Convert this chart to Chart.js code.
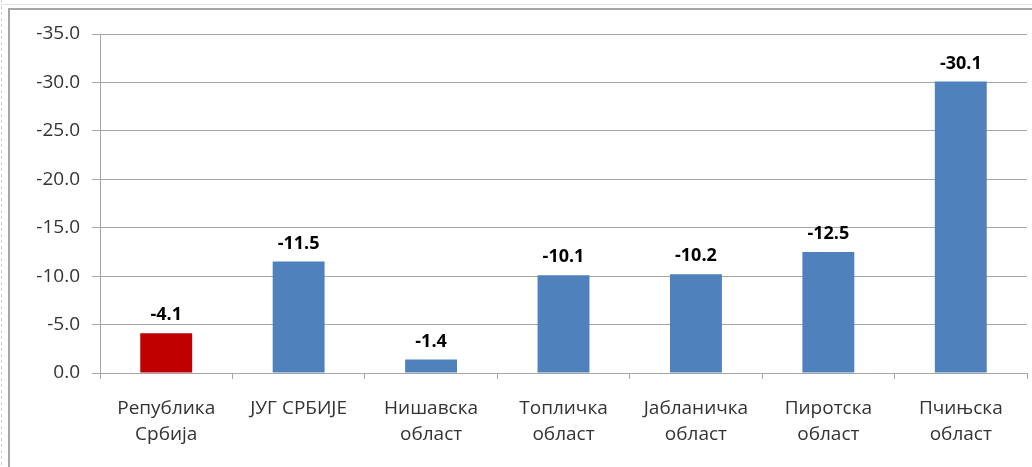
<!DOCTYPE html>
<html>
<head>
<meta charset="utf-8">
<script src="https://cdn.jsdelivr.net/npm/chart.js@4"></script>
<style>
  body { margin: 0; background: #fff; }
  #wrap { width: 1032px; height: 467px; position: relative; }
</style>
</head>
<body>
<div id="wrap"><canvas id="grafica" width="1032" height="467"></canvas></div>
<script>
const oblasti = [
    ['Република', 'Србија'],
    'ЈУГ СРБИЈЕ',
    ['Нишавска', 'област'],
    ['Топличка', 'област'],
    ['Јабланичка', 'област'],
    ['Пиротска', 'област'],
    ['Пчињска', 'област']
];
const promene = [-4.1, -11.5, -1.4, -10.1, -10.2, -12.5, -30.1];
const boje = ['#c00000', '#4f81bd', '#4f81bd', '#4f81bd', '#4f81bd', '#4f81bd', '#4f81bd'];

const fontFamily = "'Open Sans', 'Noto Sans', sans-serif";

// okvir oko grafikona
const okvir = {
    id: 'okvir',
    beforeDraw(chart) {
        const ctx = chart.ctx;
        ctx.save();
        ctx.strokeStyle = '#e4e4e4';
        ctx.lineWidth = 1;
        ctx.beginPath();
        ctx.moveTo(0, 4.5);
        ctx.lineTo(1032, 4.5);
        ctx.stroke();
        ctx.strokeStyle = '#a6a6a6';
        ctx.lineWidth = 2;
        ctx.strokeRect(9, 9, 1040, 470);
        // tackasta ivica levo
        ctx.strokeStyle = '#cfcfcf';
        ctx.lineWidth = 1;
        ctx.setLineDash([3, 3]);
        ctx.beginPath();
        ctx.moveTo(1.5, 0);
        ctx.lineTo(1.5, 467);
        ctx.stroke();
        ctx.restore();
    }
};

// vrednosti iznad stubova
const vrednosti = {
    id: 'vrednosti',
    afterDatasetsDraw(chart) {
        const ctx = chart.ctx;
        const meta = chart.getDatasetMeta(0);
        ctx.save();
        ctx.font = 'bold 18px ' + fontFamily;
        ctx.fillStyle = '#000';
        ctx.textAlign = 'center';
        ctx.textBaseline = 'bottom';
        meta.data.forEach((bar, i) => {
            ctx.fillText(promene[i].toFixed(1), bar.x, bar.y - 9);
        });
        ctx.restore();
    }
};

const instancia = document.getElementById('grafica').getContext('2d');
const myChart = new Chart(instancia, {
    type: 'bar',
    data: {
        labels: oblasti,
        datasets: [{
            data: promene,
            backgroundColor: boje,
            borderWidth: 0,
            barPercentage: 0.8,
            categoryPercentage: 0.49
        }]
    },
    options: {
        responsive: false,
        animation: false,
        layout: { padding: { top: 34, right: 5, left: 0, bottom: 0 } },
        plugins: {
            legend: { display: false },
            tooltip: { enabled: false }
        },
        scales: {
            x: {
                grid: {
                    display: true,
                    drawOnChartArea: false,
                    drawTicks: true,
                    tickLength: 6,
                    offset: true,
                    color: '#a6a6a6'
                },
                border: { color: '#a6a6a6', width: 1 },
                ticks: {
                    color: '#333',
                    font: { family: fontFamily, size: 19, lineHeight: 1.4 },
                    padding: 16,
                    maxRotation: 0,
                    autoSkip: false
                },
                afterFit(scale) { scale.height = 94; }
            },
            y: {
                reverse: true,
                min: -35,
                max: 0,
                ticks: {
                    stepSize: 5,
                    color: '#333',
                    font: { family: fontFamily, size: 19 },
                    padding: 12,
                    callback: v => v.toFixed(1)
                },
                grid: {
                    color: '#a6a6a6',
                    tickLength: 8,
                    drawTicks: true
                },
                border: { color: '#a6a6a6', width: 1 },
                afterFit(scale) { scale.width = 100; }
            }
        }
    },
    plugins: [okvir, vrednosti]
});
</script>
</body>
</html>
